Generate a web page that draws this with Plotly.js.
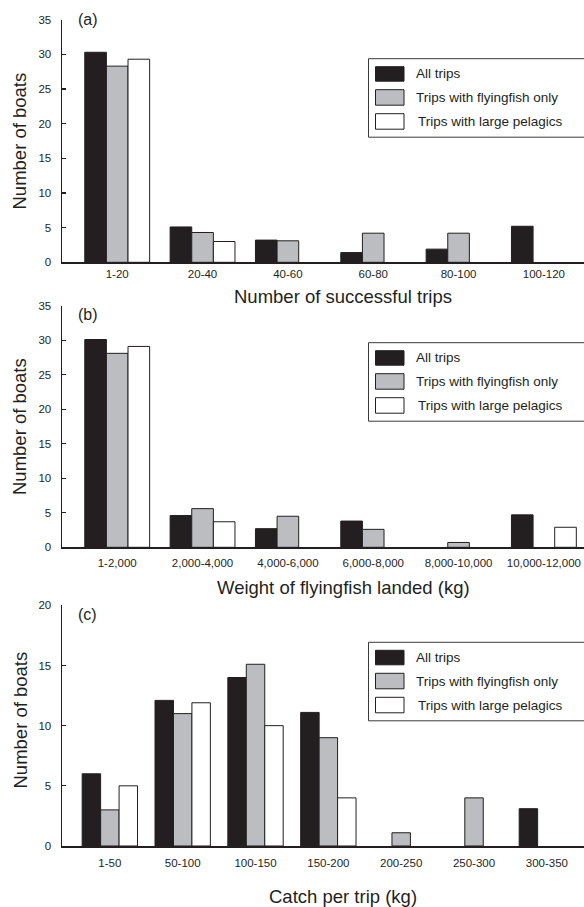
<!DOCTYPE html>
<html>
<head>
<meta charset="utf-8">
<script src="https://cdn.plot.ly/plotly-3.0.1.min.js"></script>
<style>
html,body{margin:0;padding:0;background:#fff;}
#chart{width:584px;height:907px;}
</style>
</head>
<body>
<div id="chart"></div>
<script>
// ---- Data ----
var seriesNames = ['All trips', 'Trips with flyingfish only', 'Trips with large pelagics'];

var catsA = ['1-20', '20-40', '40-60', '60-80', '80-100', '100-120'];
var allA  = [30.3, 5.1, 3.2, 1.4, 1.9, 5.2];
var flyA  = [28.3, 4.3, 3.1, 4.2, 4.2, 0];
var pelA  = [29.3, 3.0, 0, 0, 0, 0];

var catsB = ['1-2,000', '2,000-4,000', '4,000-6,000', '6,000-8,000', '8,000-10,000', '10,000-12,000'];
var allB  = [30.1, 4.6, 2.7, 3.8, 0, 4.7];
var flyB  = [28.1, 5.6, 4.5, 2.6, 0.7, 0];
var pelB  = [29.1, 3.7, 0, 0, 0, 2.9];

var catsC = ['1-50', '50-100', '100-150', '150-200', '200-250', '250-300', '300-350'];
var allC  = [6, 12.1, 14, 11.1, 0, 0, 3.1];
var flyC  = [3, 11, 15.1, 9, 1.1, 4, 0];
var pelC  = [5, 11.9, 10, 4, 0, 0, 0];

var ticksA = [0, 5, 10, 15, 20, 25, 30, 35];
var ticksC = [0, 5, 10, 15, 20];

var xTitles = ['Number of successful trips', 'Weight of flyingfish landed (kg)', 'Catch per trip (kg)'];
var yTitle = 'Number of boats';
var panelLabels = ['(a)', '(b)', '(c)'];

// ---- Styling / layout helpers ----
var W = 584, H = 907;
var FONT = 'Liberation Sans, Arial, sans-serif';
var INK = '#231f20';
var fills = [INK, '#bcbdc0', '#ffffff'];
function px(x) { return x / W; }
function py(y) { return 1 - y / H; }

var traces = [];
function addGroup(cats, vals, axSuffix) {
  for (var i = 0; i < 3; i++) {
    traces.push({
      type: 'bar',
      x: cats,
      // a zero count draws no bar at all (as in the original figure)
      y: vals[i].map(function (v) { return v === 0 ? null : v; }),
      name: seriesNames[i],
      showlegend: false,
      xaxis: 'x' + axSuffix,
      yaxis: 'y' + axSuffix,
      marker: {color: fills[i], line: {color: INK, width: 1}},
      hoverinfo: 'skip'
    });
  }
}
addGroup(catsA, [allA, flyA, pelA], '');
addGroup(catsB, [allB, flyB, pelB], '2');
addGroup(catsC, [allC, flyC, pelC], '3');

// panel geometry in pixels (top of y range, baseline)
var panels = [
  {top: 19.7, bot: 262.3, xr: [-0.647, 5.47], yr: [0, 35], tv: ticksA, tls: 0, legTop: 58.7, lab: 19.5, xt: 296, ytc: 141},
  {top: 305.7, bot: 547.3, xr: [-0.647, 5.47], yr: [0, 35], tv: ticksA, tls: 4, legTop: 342.7, lab: 314, xt: 587, ytc: 426.5},
  {top: 605.3, bot: 846, xr: [-0.657, 6.51], yr: [0, 20], tv: ticksC, tls: 5, legTop: 642.3, lab: 614, xt: 896, ytc: 720}
];

var layout = {
  width: W, height: H,
  margin: {l: 0, r: 0, t: 0, b: 0},
  paper_bgcolor: '#fff', plot_bgcolor: '#fff',
  barmode: 'group', bargap: 0.24, bargroupgap: 0,
  font: {family: FONT, color: INK},
  showlegend: false,
  shapes: [], annotations: []
};

panels.forEach(function (p, k) {
  var s = k === 0 ? '' : String(k + 1);
  layout['xaxis' + s] = {
    domain: [px(62), 1],
    anchor: 'y' + s,
    type: 'category',
    range: p.xr,
    showline: true, linecolor: INK, linewidth: 2,
    showgrid: false, zeroline: false,
    ticks: '',
    ticklabelstandoff: p.tls,
    tickfont: {family: FONT, size: 11.5, color: INK},
    fixedrange: true,
    automargin: false
  };
  layout['yaxis' + s] = {
    domain: [py(p.bot), py(p.top)],
    anchor: 'x' + s,
    range: p.yr,
    tickvals: p.tv,
    showline: true, linecolor: INK, linewidth: 1.5,
    showgrid: false, zeroline: false,
    ticks: 'inside', ticklen: 4, tickwidth: 1.2, tickcolor: INK,
    ticklabelstandoff: 7,
    tickfont: {family: FONT, size: 11.5, color: INK},
    fixedrange: true,
    automargin: false
  };

  // legend box (custom, to match the large swatches)
  var t = p.legTop;
  layout.shapes.push({type: 'rect', xref: 'paper', yref: 'paper',
    x0: px(368.5), x1: px(600), y0: py(t), y1: py(t + 78.5),
    line: {color: '#3a3a3a', width: 1}, fillcolor: 'rgba(255,255,255,0)', layer: 'above'});
  var offs = [[8, 22.5], [31, 46.5], [55, 70.5]];
  for (var i = 0; i < 3; i++) {
    layout.shapes.push({type: 'rect', xref: 'paper', yref: 'paper',
      x0: px(375.5), x1: px(404), y0: py(t + offs[i][0]), y1: py(t + offs[i][1]),
      line: {color: INK, width: 1}, fillcolor: fills[i], layer: 'above'});
    layout.annotations.push({xref: 'paper', yref: 'paper',
      x: px(i === 2 ? 415.5 : 414), y: py(t + (offs[i][0] + offs[i][1]) / 2),
      xanchor: 'left', yanchor: 'middle', showarrow: false,
      text: seriesNames[i], font: {family: FONT, size: 13.5, color: INK}});
  }

  // panel label
  layout.annotations.push({xref: 'paper', yref: 'paper', x: px(75.5), y: py(p.lab),
    xanchor: 'left', yanchor: 'middle', showarrow: false,
    text: panelLabels[k], font: {family: FONT, size: 16, color: INK}});
  // x title
  layout.annotations.push({xref: 'paper', yref: 'paper', x: px(343), y: py(p.xt),
    xanchor: 'center', yanchor: 'middle', showarrow: false,
    text: xTitles[k], font: {family: FONT, size: 18.5, color: INK}});
  // y title
  layout.annotations.push({xref: 'paper', yref: 'paper', x: px(19.5), y: py(p.ytc),
    xanchor: 'center', yanchor: 'middle', showarrow: false, textangle: -90,
    text: yTitle, font: {family: FONT, size: 18.5, color: INK}});
});

Plotly.newPlot('chart', traces, layout, {displayModeBar: false, staticPlot: true});
</script>
</body>
</html>
